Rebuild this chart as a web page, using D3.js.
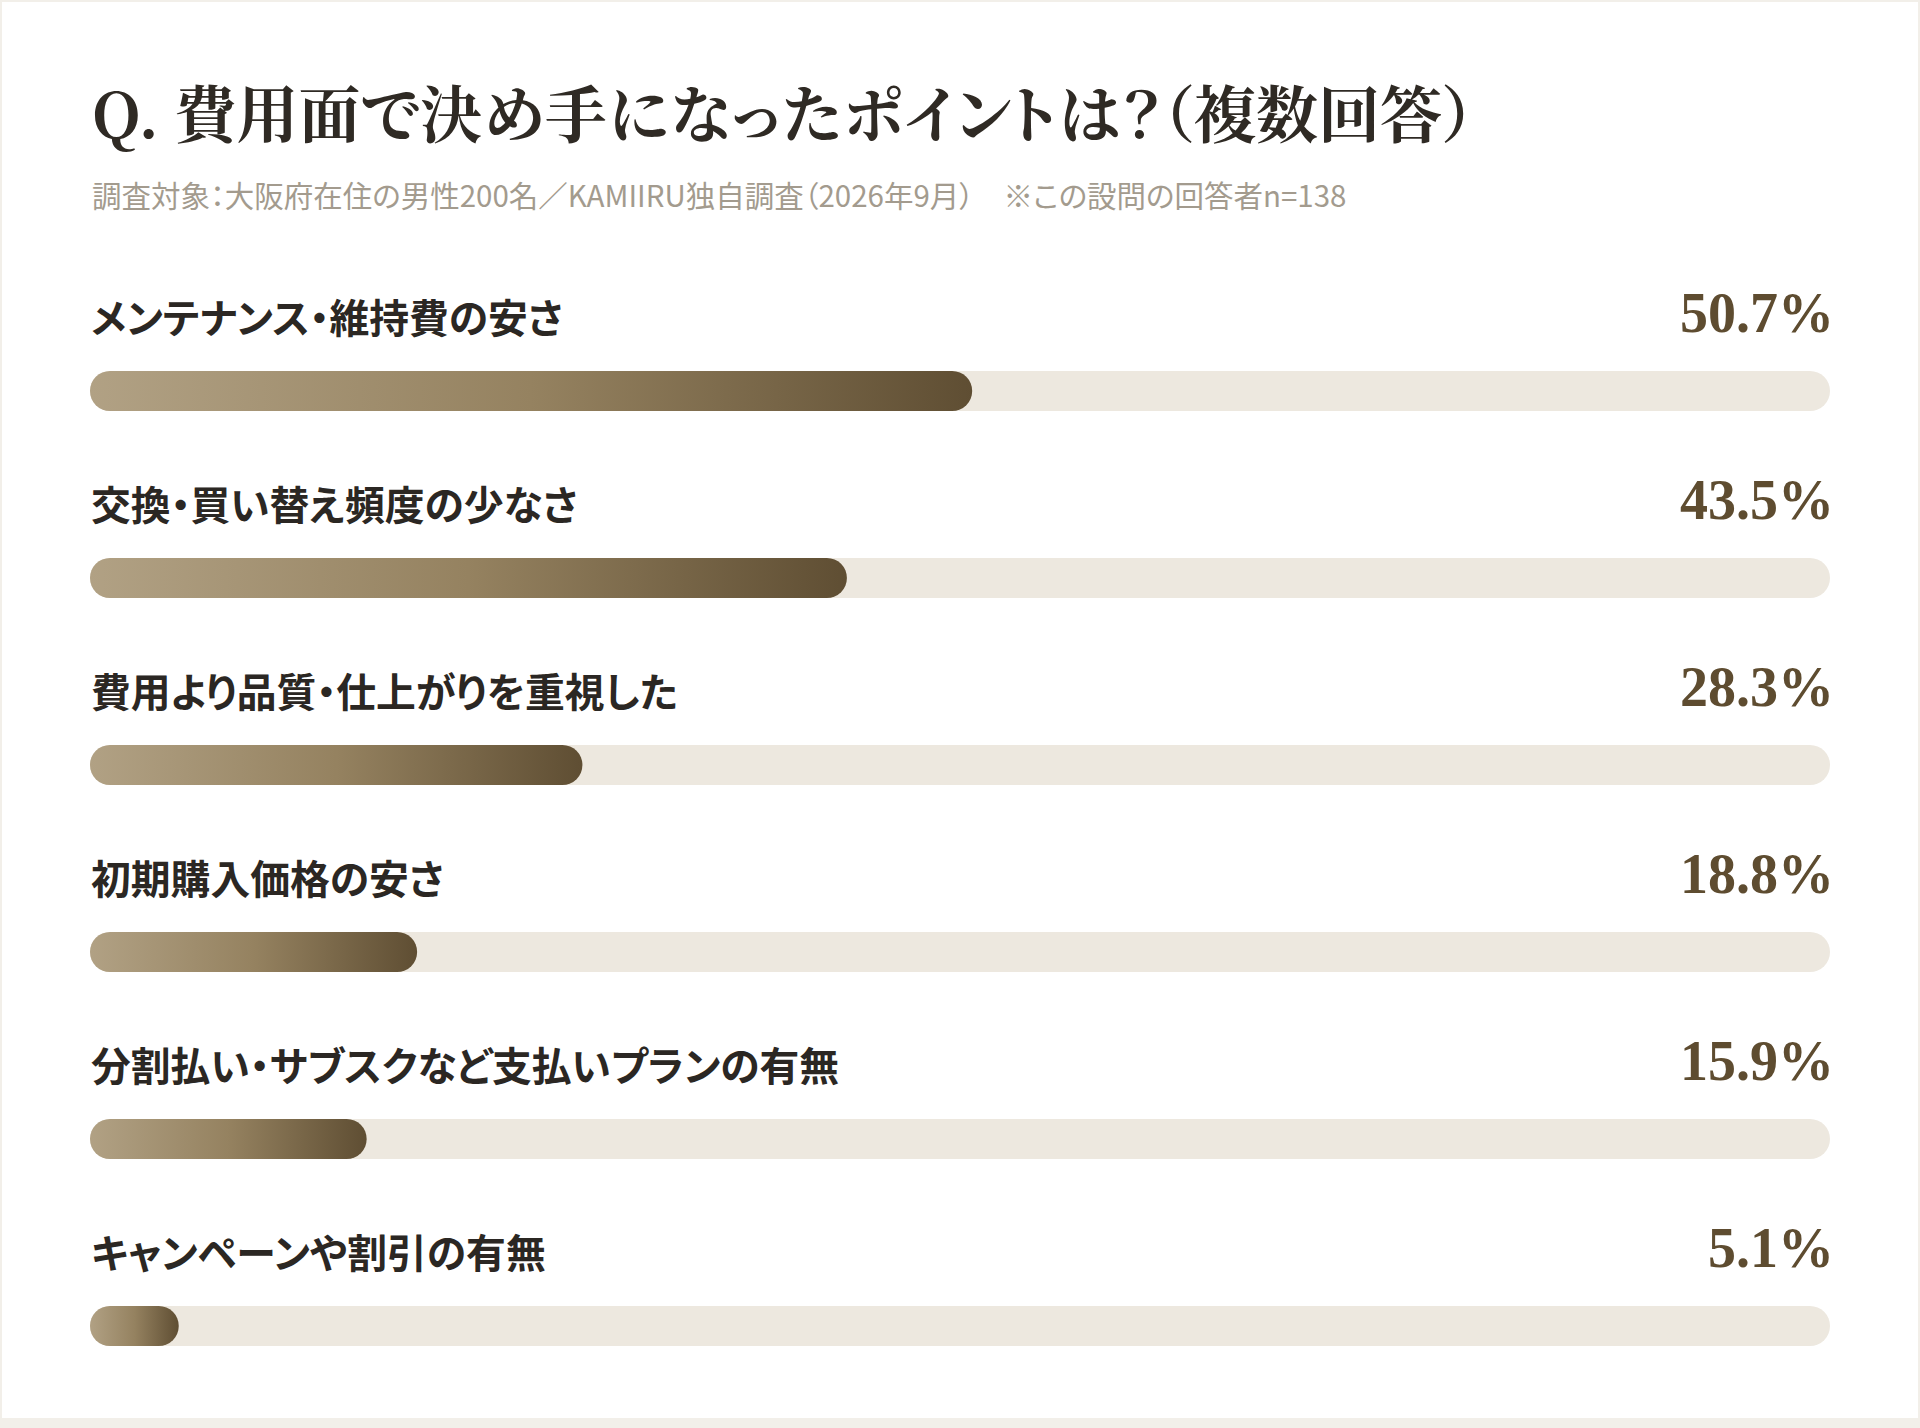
<!DOCTYPE html>
<html lang="ja">
<head>
<meta charset="utf-8">
<script src="https://cdn.jsdelivr.net/npm/d3@7"></script>
<style>
  html, body { margin: 0; padding: 0; background: #f2efe9; }
  svg { display: block; }
  text { font-feature-settings: "palt"; }
</style>
</head>
<body>
<div id="chart"></div>
<script>
// Chart data
const titleText = "Q. 費用面で決め手になったポイントは？（複数回答）";
const subtitleText = "調査対象：大阪府在住の男性200名／KAMIIRU独自調査（2026年9月）　※この設問の回答者n=138";
const categories = [
  "メンテナンス・維持費の安さ",
  "交換・買い替え頻度の少なさ",
  "費用より品質・仕上がりを重視した",
  "初期購入価格の安さ",
  "分割払い・サブスクなど支払いプランの有無",
  "キャンペーンや割引の有無"
];
const values = [50.7, 43.5, 28.3, 18.8, 15.9, 5.1];

// Set the dimensions
const width = 1920, height = 1428;
const barH = 40;

const svg = d3.select("#chart")
    .append("svg")
    .attr("width", width)
    .attr("height", height);

// Gradient for the filled bars (runs across each bar)
const grad = svg.append("defs").append("linearGradient")
    .attr("id", "barGrad")
    .attr("x1", "0%").attr("x2", "100%")
    .attr("y1", "0%").attr("y2", "0%");
grad.append("stop").attr("offset", "0%").attr("stop-color", "#b1a184");
grad.append("stop").attr("offset", "50%").attr("stop-color", "#958260");
grad.append("stop").attr("offset", "100%").attr("stop-color", "#5f4e33");

// White card
svg.append("rect")
    .attr("x", 2).attr("y", 2)
    .attr("width", width - 4).attr("height", height - 12)
    .attr("fill", "#ffffff");

// Title and subtitle
svg.append("text")
    .attr("x", 92).attr("y", 138)
    .attr("font-family", "'Noto Serif CJK JP', 'Liberation Serif', 'Noto Sans CJK JP', serif")
    .attr("font-weight", 700)
    .attr("font-size", 62)
    .attr("fill", "#2f2a24")
    .text(titleText);

svg.append("text")
    .attr("x", 92).attr("y", 207)
    .attr("font-family", "'Noto Sans CJK JP', sans-serif")
    .attr("font-size", 29.5)
    .attr("fill", "#a39b8e")
    .text(subtitleText);

// Scales
const x = d3.scaleLinear()
    .domain([0, 100])
    .range([90, 1830]);

const y = d3.scalePoint()
    .domain(categories)
    .range([371, 1306]);

const data = categories.map((c, i) => ({ label: c, value: values[i] }));

const rows = svg.selectAll(".row")
    .data(data)
    .enter().append("g")
    .attr("class", "row")
    .attr("transform", d => `translate(0,${y(d.label)})`);

// Track
rows.append("rect")
    .attr("x", x(0))
    .attr("y", 0)
    .attr("width", x(100) - x(0))
    .attr("height", barH)
    .attr("rx", barH / 2)
    .attr("fill", "#ede8df");

// Value bar
rows.append("rect")
    .attr("x", x(0))
    .attr("y", 0)
    .attr("width", d => x(d.value) - x(0))
    .attr("height", barH)
    .attr("rx", barH / 2)
    .attr("fill", "url(#barGrad)");

// Category labels
rows.append("text")
    .attr("x", x(0) + 1)
    .attr("y", -38)
    .attr("font-family", "'Noto Sans CJK JP', sans-serif")
    .attr("font-weight", 700)
    .attr("font-size", 39.8)
    .attr("fill", "#2b2723")
    .text(d => d.label);

// Percent labels
rows.append("text")
    .attr("x", x(100) + 4)
    .attr("y", -39)
    .attr("text-anchor", "end")
    .attr("font-family", "'Liberation Serif', serif")
    .attr("font-weight", 700)
    .attr("font-size", 56)
    .attr("fill", "#5e4c30")
    .text(d => d.value.toFixed(1) + "%");
</script>
</body>
</html>
